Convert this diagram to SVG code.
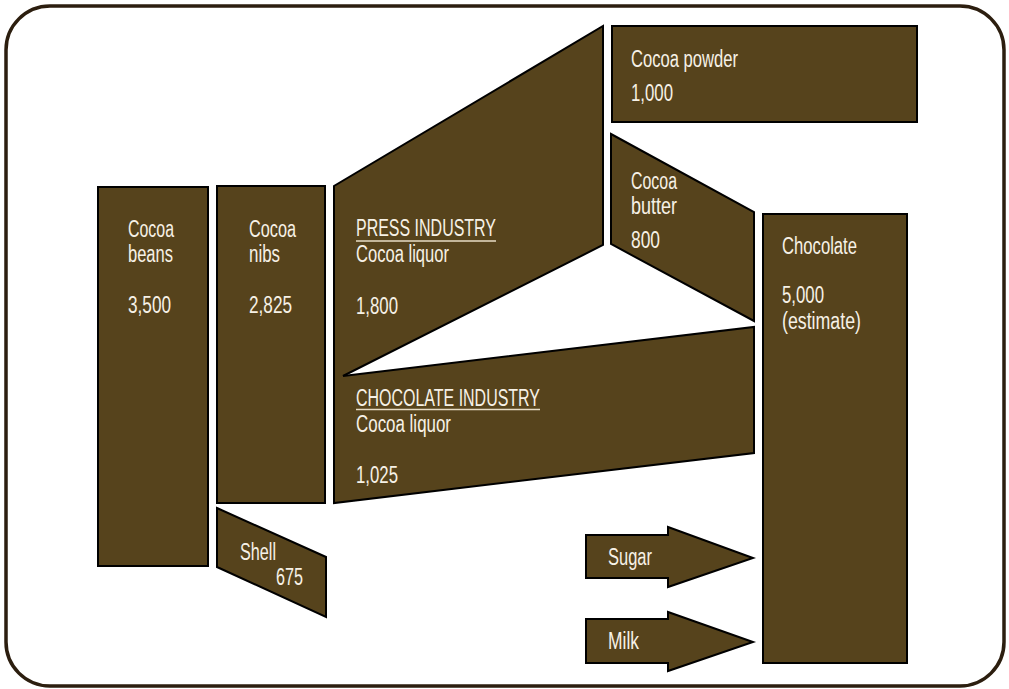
<svg xmlns="http://www.w3.org/2000/svg" width="1009" height="689" viewBox="0 0 1009 689">
  <style>
    .frame { fill: #ffffff; stroke: #2c1e0f; stroke-width: 3.5; }
    .box { fill: #56431c; stroke: #000000; stroke-width: 2; stroke-linejoin: miter; }
    .lbl { fill: #f6f1e6; font-family: "Liberation Sans", Arial, sans-serif; font-size: 23px; }
    .ul { stroke: #e8dcc4; stroke-width: 1.5; }
  </style>

  <!-- outer rounded frame -->
  <rect class="frame" x="6" y="6" width="998" height="680" rx="44" ry="44"/>

  <g id="cocoa-beans">
    <rect class="box" x="98" y="187" width="110" height="379"/>
    <text class="lbl" x="128" y="237" textLength="46" lengthAdjust="spacingAndGlyphs">Cocoa</text>
    <text class="lbl" x="128" y="262" textLength="45" lengthAdjust="spacingAndGlyphs">beans</text>
    <text class="lbl" x="128" y="313" textLength="43" lengthAdjust="spacingAndGlyphs">3,500</text>
  </g>

  <g id="cocoa-nibs">
    <rect class="box" x="217" y="186" width="108" height="317"/>
    <text class="lbl" x="249" y="237" textLength="47" lengthAdjust="spacingAndGlyphs">Cocoa</text>
    <text class="lbl" x="249" y="262" textLength="31" lengthAdjust="spacingAndGlyphs">nibs</text>
    <text class="lbl" x="249" y="313" textLength="43" lengthAdjust="spacingAndGlyphs">2,825</text>
  </g>

  <g id="shell">
    <polygon class="box" points="217,508 326,557 326,617 217,567"/>
    <text class="lbl" x="240" y="560" textLength="36" lengthAdjust="spacingAndGlyphs">Shell</text>
    <text class="lbl" x="276" y="585" textLength="27" lengthAdjust="spacingAndGlyphs">675</text>
  </g>

  <g id="press-industry">
    <!-- stroke left open along the edge shared with the chocolate industry band -->
    <path class="box" d="M334,376 L334,186 L603,26 L603,245 L343,376"/>
    <text class="lbl" x="356" y="236" textLength="140" lengthAdjust="spacingAndGlyphs">PRESS INDUSTRY</text>
    <line class="ul" x1="356" y1="241" x2="496" y2="241"/>
    <text class="lbl" x="356" y="262" textLength="93" lengthAdjust="spacingAndGlyphs">Cocoa liquor</text>
    <text class="lbl" x="356" y="314" textLength="42" lengthAdjust="spacingAndGlyphs">1,800</text>
  </g>

  <g id="chocolate-industry">
    <path class="box" d="M343,376 L754,327 L754,453 L334,503 L334,376"/>
    <text class="lbl" x="356" y="406" textLength="184" lengthAdjust="spacingAndGlyphs">CHOCOLATE INDUSTRY</text>
    <line class="ul" x1="356" y1="409.5" x2="540" y2="409.5"/>
    <text class="lbl" x="356" y="432" textLength="95" lengthAdjust="spacingAndGlyphs">Cocoa liquor</text>
    <text class="lbl" x="356" y="483" textLength="42" lengthAdjust="spacingAndGlyphs">1,025</text>
  </g>

  <g id="cocoa-powder">
    <rect class="box" x="612" y="26" width="305" height="96"/>
    <text class="lbl" x="631" y="67" textLength="107" lengthAdjust="spacingAndGlyphs">Cocoa powder</text>
    <text class="lbl" x="631" y="101" textLength="42" lengthAdjust="spacingAndGlyphs">1,000</text>
  </g>

  <g id="cocoa-butter">
    <polygon class="box" points="611,134 754,212 754,321 611,244"/>
    <text class="lbl" x="631" y="189" textLength="46" lengthAdjust="spacingAndGlyphs">Cocoa</text>
    <text class="lbl" x="631" y="214" textLength="46" lengthAdjust="spacingAndGlyphs">butter</text>
    <text class="lbl" x="631" y="248" textLength="29" lengthAdjust="spacingAndGlyphs">800</text>
  </g>

  <g id="chocolate">
    <rect class="box" x="763" y="214" width="144" height="449"/>
    <text class="lbl" x="782" y="254" textLength="75" lengthAdjust="spacingAndGlyphs">Chocolate</text>
    <text class="lbl" x="782" y="303" textLength="42" lengthAdjust="spacingAndGlyphs">5,000</text>
    <text class="lbl" x="782" y="329" textLength="79" lengthAdjust="spacingAndGlyphs">(estimate)</text>
  </g>

  <g id="sugar">
    <polygon class="box" points="586,535 668,535 668,527 753,558 668,587 668,578 586,578"/>
    <text class="lbl" x="608" y="565" textLength="44" lengthAdjust="spacingAndGlyphs">Sugar</text>
  </g>

  <g id="milk">
    <polygon class="box" points="586,619 668,619 668,612 753,642 668,671 668,663 586,663"/>
    <text class="lbl" x="608" y="649" textLength="31" lengthAdjust="spacingAndGlyphs">Milk</text>
  </g>

  <!-- flows are drawn as the band shapes themselves; no separate connector lines -->
  <g id="connectors"/>
</svg>
